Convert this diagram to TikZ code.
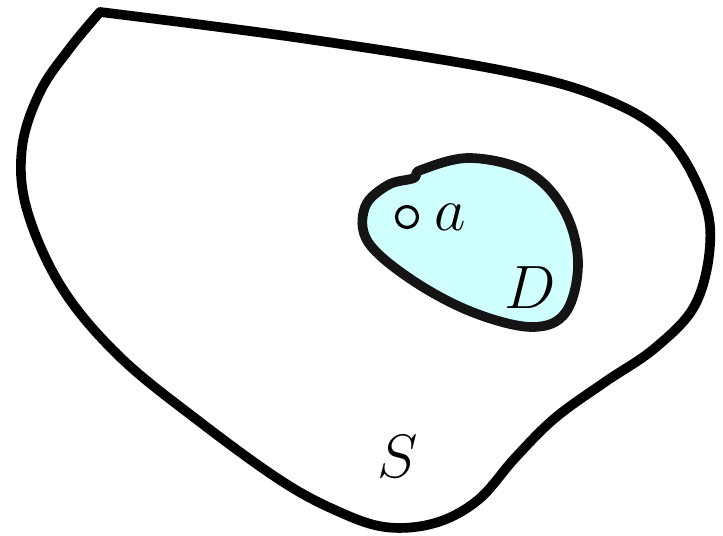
\documentclass[tikz,border=0pt]{standalone}
\usepackage{amsmath,amssymb}
\usepackage{tikz}
\usetikzlibrary{positioning}
\definecolor{dfill}{RGB}{208,255,255}

\begin{document}
\begin{tikzpicture}[
  x=0.02cm, y=-0.02cm,
  region/.style={line width=5.5pt, line join=round, line cap=round},
  dom/.style={region, draw=black!92, fill=dfill},
  pt/.style={circle, draw, line width=1.8pt, inner sep=0pt, minimum size=0.42cm},
  lbl/.style={font=\Huge, scale=1.4, transform shape}
]
  \useasboundingbox (0,0) rectangle (723,536);

  % the big set S
  \draw[region] plot[smooth, tension=0.6] coordinates {
    (100,12) (300,38) (500,70) (600,97) (665,135) (702,195) (710,245)
    (695,305) (655,348) (605,382) (555,418) (515,458) (478,500)
    (435,523) (385,527) (335,510) (280,480) (200,422) (120,357)
    (62,288) (27,210) (22,148) (40,92) (70,48) (100,12)} -- cycle;

  % the domain D
  \draw[dom] plot[smooth cycle, tension=0.6] coordinates {
    (421,170) (470,158) (528,172) (564,210) (578,262) (566,312)
    (532,327) (472,312) (412,280) (368,242) (365,207) (388,185) (414,178)};

  \node[pt] (a) at (407,217) {};
  \node[lbl, right=0.13cm of a] (alabel) {$a$};
  \node[lbl] (dlabel) at (530,288) {$D$};
  \node[lbl] (slabel) at (398,457) {$S$};
\end{tikzpicture}
\end{document}
